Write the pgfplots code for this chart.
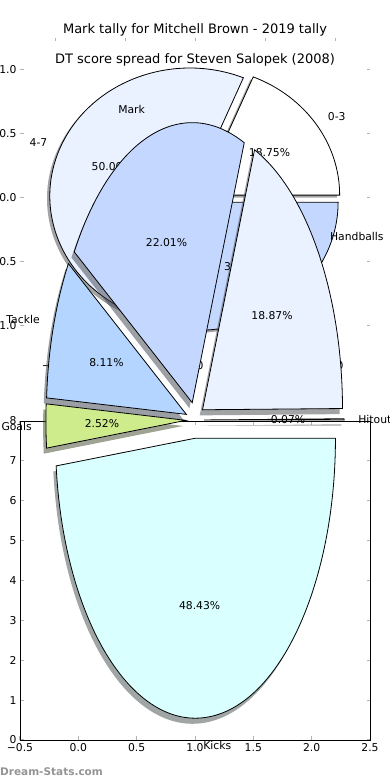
\documentclass[border=0pt]{standalone}
\usepackage{pgfplots}
\pgfplotsset{compat=1.18}
\usepackage{fontspec}
\setmainfont{DejaVu Sans}
\definecolor{cKicks}{RGB}{218,255,255}
\definecolor{cGoals}{RGB}{207,236,141}
\definecolor{cTackle}{RGB}{179,213,255}
\definecolor{cMark}{RGB}{196,216,255}
\definecolor{cHand}{RGB}{234,241,255}
\definecolor{cHit}{RGB}{255,255,255}
\definecolor{tickgray}{RGB}{178,178,178}
\newcommand\lbl{\fontsize{10.8bp}{13bp}\selectfont}
\newcommand\ttl{\fontsize{13bp}{15.6bp}\selectfont}
% #1 style, #2 explode, #3 start angle, #4 end angle, #5 x radius, #6 y radius
\newcommand\pwedge[6]{\path[#1] (axis cs:{#2*cos((#3+#4)/2)},{#2*sin((#3+#4)/2)}) -- ++(#3:#5 and #6) arc[start angle=#3, end angle=#4, x radius=#5, y radius=#6] -- cycle;}
% #1 style, #2 distance, #3 angle, #4 text
\newcommand\plabel[4]{\node[inner sep=0pt, font=\lbl, #1] at (axis cs:{#2*cos(#3)},{#2*sin(#3)}) {#4};}
\begin{document}
\begin{tikzpicture}
\useasboundingbox (0,0) rectangle (390bp,780bp);
% ---------- axis A : DT score spread pie ----------
\begin{axis}[at={(20bp,422bp)}, anchor=south west, scale only axis, width=350bp, height=320bp,
  xmin=-1.25, xmax=1.25, ymin=-1.25, ymax=1.25, clip=false,
  axis line style={draw=none},
  xtick={-1,-0.5,0,0.5,1}, xticklabels={−1.0,−0.5,0.0,0.5,1.0},
  ytick={-1,-0.5,0,0.5,1}, yticklabels={−1.0,−0.5,0.0,0.5,1.0},
  tick align=inside, major tick length=3.5bp, tick style={draw=tickgray, line width=1bp},
  ticklabel style={font=\lbl}, minor tick num=0]
% values: 0-3 18.75, 4-7 50.00, rest 31.25
\pwedge{fill=white!30!black, fill opacity=0.5, xshift=-2.8bp, yshift=-2.6bp}{0.04}{0}{67.5}{140bp}{128bp}
\pwedge{fill=cHand!30!black, fill opacity=0.5, xshift=-2.8bp, yshift=-2.6bp}{0.04}{67.5}{247.5}{140bp}{128bp}
\pwedge{fill=cMark!30!black, fill opacity=0.5, xshift=-2.8bp, yshift=-2.6bp}{0.04}{247.5}{360}{140bp}{128bp}
\pwedge{fill=white, draw=black, line width=0.8bp}{0.04}{0}{67.5}{140bp}{128bp}
\pwedge{fill=cHand, draw=black, line width=0.8bp}{0.04}{67.5}{247.5}{140bp}{128bp}
\pwedge{fill=cMark, draw=black, line width=0.8bp}{0.04}{247.5}{360}{140bp}{128bp}
\plabel{anchor=west}{1.14}{33.75}{0-3}
\plabel{anchor=east}{1.14}{157.5}{4-7}
\plabel{anchor=center}{0.64}{33.75}{18.75\%}
\plabel{anchor=center}{0.64}{157.5}{50.00\%}
\plabel{anchor=center}{0.64}{303.75}{31.25\%}
\node[anchor=base, font=\ttl, inner sep=0pt, yshift=4.5bp] at (rel axis cs:0.5,1) {Mark tally for Mitchell Brown - 2019 tally};
\end{axis}
% ---------- axis C : framed axis ----------
\begin{axis}[at={(20bp,40bp)}, anchor=south west, scale only axis, width=350bp, height=319bp,
  xmin=-0.5, xmax=2.5, ymin=0, ymax=8,
  xtick={-0.5,0,0.5,1,1.5,2,2.5}, xticklabels={−0.5,0.0,0.5,1.0,1.5,2.0,2.5},
  ytick={0,1,2,3,4,5,6,7,8}, yticklabels={0,1,2,3,4,5,6,7,8},
  tick align=inside, major tick length=3.5bp, tick style={draw=tickgray, line width=1bp},
  axis line style={line width=0.9bp},
  ticklabel style={font=\lbl}, minor tick num=0, clip=false]
\node[anchor=base west, inner sep=0pt, font=\fontsize{10.5bp}{12bp}\selectfont\bfseries, text=black!42, xshift=-20bp, yshift=-35.5bp] at (rel axis cs:0,0) {Dream-Stats.com};
\end{axis}
% ---------- axis B : Mark tally pie ----------
\begin{axis}[at={(20bp,10bp)}, anchor=south west, scale only axis, width=350bp, height=700bp,
  xmin=-1.25, xmax=1.25, ymin=-1.25, ymax=1.25, clip=false, hide axis]
% values: Hitout 0.07, Handballs 18.87, Mark 22.01, Tackle 8.11, Goals 2.52, Kicks 48.43
\pwedge{fill=cHit!30!black, fill opacity=0.5, xshift=-2.8bp, yshift=-5.6bp}{0.065}{0}{0.252}{140bp}{280bp}
\pwedge{fill=cHand!30!black, fill opacity=0.5, xshift=-2.8bp, yshift=-5.6bp}{0.065}{0.252}{68.184}{140bp}{280bp}
\pwedge{fill=cMark!30!black, fill opacity=0.5, xshift=-2.8bp, yshift=-5.6bp}{0.065}{68.184}{147.42}{140bp}{280bp}
\pwedge{fill=cTackle!30!black, fill opacity=0.5, xshift=-2.8bp, yshift=-5.6bp}{0.065}{147.42}{176.616}{140bp}{280bp}
\pwedge{fill=cGoals!30!black, fill opacity=0.5, xshift=-2.8bp, yshift=-5.6bp}{0.065}{176.616}{185.688}{140bp}{280bp}
\pwedge{fill=cKicks!30!black, fill opacity=0.5, xshift=-2.8bp, yshift=-5.6bp}{0.065}{185.688}{360}{140bp}{280bp}
\pwedge{fill=cHit, draw=black, line width=0.8bp}{0.065}{0}{0.252}{140bp}{280bp}
\pwedge{fill=cHand, draw=black, line width=0.8bp}{0.065}{0.252}{68.184}{140bp}{280bp}
\pwedge{fill=cMark, draw=black, line width=0.8bp}{0.065}{68.184}{147.42}{140bp}{280bp}
\pwedge{fill=cTackle, draw=black, line width=0.8bp}{0.065}{147.42}{176.616}{140bp}{280bp}
\pwedge{fill=cGoals, draw=black, line width=0.8bp}{0.065}{176.616}{185.688}{140bp}{280bp}
\pwedge{fill=cKicks, draw=black, line width=0.8bp}{0.065}{185.688}{360}{140bp}{280bp}
\plabel{anchor=west}{1.165}{0.126}{Hitout}
\plabel{anchor=west}{1.165}{34.218}{Handballs}
\plabel{anchor=east}{1.165}{107.802}{Mark}
\plabel{anchor=east}{1.165}{162.018}{Tackle}
\plabel{anchor=east}{1.165}{181.152}{Goals}
\plabel{anchor=west}{1.165}{272.844}{Kicks}
\plabel{anchor=center}{0.665}{0.126}{0.07\%}
\plabel{anchor=center}{0.665}{34.218}{18.87\%}
\plabel{anchor=center}{0.665}{107.802}{22.01\%}
\plabel{anchor=center}{0.665}{162.018}{8.11\%}
\plabel{anchor=center}{0.665}{181.152}{2.52\%}
\plabel{anchor=center}{0.665}{272.844}{48.43\%}
\node[anchor=base, font=\ttl, inner sep=0pt, yshift=6bp] at (rel axis cs:0.5,1) {DT score spread for Steven Salopek (2008)};
\end{axis}
\end{tikzpicture}
\end{document}
